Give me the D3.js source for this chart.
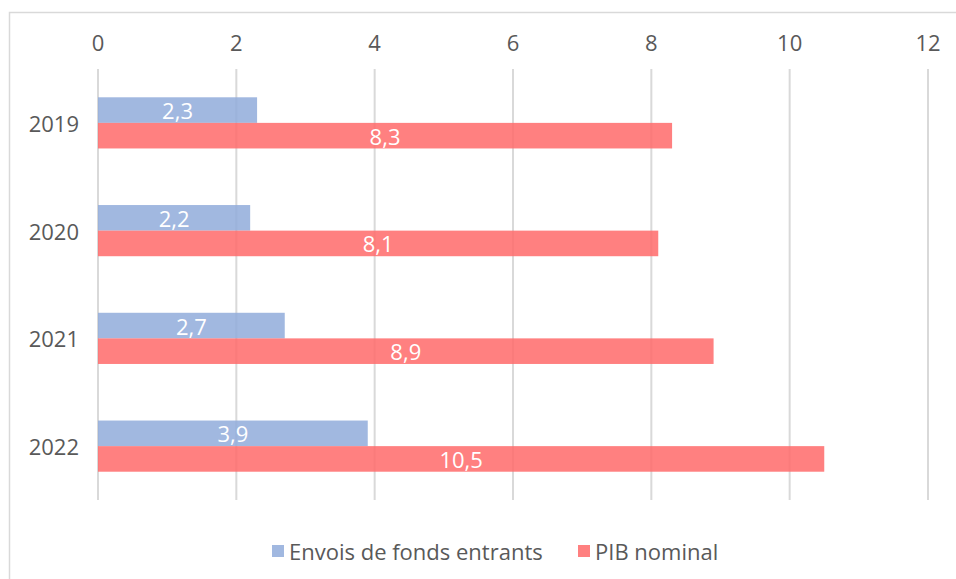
<!DOCTYPE html>
<html>
<head>
<meta charset="utf-8">
<script src="https://cdn.jsdelivr.net/npm/d3@7"></script>
<style>
  body { margin: 0; background: #fff; }
  svg { display: block; font-family: "Open Sans", sans-serif; }
</style>
</head>
<body>
<svg id="chart" width="956" height="579"></svg>
<script>
// ===== DATA =====
const years = ["2019", "2020", "2021", "2022"];
const envois = [2.3, 2.2, 2.7, 3.9];
const pib = [8.3, 8.1, 8.9, 10.5];
const xTicks = [0, 2, 4, 6, 8, 10, 12];
const seriesNames = ["Envois de fonds entrants", "PIB nominal"];
const seriesColors = ["#90acdb", "#ff6a6a"];

const svg = d3.select("#chart");
const margin = { left: 98, right: 28, top: 69, bottom: 79 };
const width = 956, height = 579;
const fontSize = "22px";

// frame (runs past the picture on right/bottom)
svg.append("path")
  .attr("d", `M9.5,${height + 5} V12.5 H${width + 5}`)
  .attr("fill", "none")
  .attr("stroke", "#d9d9d9")
  .attr("stroke-width", 1.5);

const x = d3.scaleLinear().domain([0, 12]).range([margin.left, width - margin.right]);
const y = d3.scaleBand().domain(years).range([margin.top, height - margin.bottom]).paddingInner(0.525).paddingOuter(0.2625);
const ySub = d3.scaleBand().domain([0, 1]).range([0, y.bandwidth()]);

// gridlines
svg.append("g").selectAll("line")
  .data(xTicks)
  .join("line")
  .attr("x1", d => x(d)).attr("x2", d => x(d))
  .attr("y1", margin.top).attr("y2", height - margin.bottom)
  .attr("stroke", "#d9d9d9")
  .attr("stroke-width", 2);

// top axis labels
svg.append("g").selectAll("text")
  .data(xTicks)
  .join("text")
  .attr("x", d => x(d))
  .attr("y", 42)
  .attr("text-anchor", "middle")
  .attr("dominant-baseline", "central")
  .attr("fill", "#595959")
  .attr("font-size", fontSize)
  .text(d => d);

// category labels
svg.append("g").selectAll("text")
  .data(years)
  .join("text")
  .attr("x", 79)
  .attr("y", d => y(d) + y.bandwidth() / 2)
  .attr("text-anchor", "end")
  .attr("dominant-baseline", "central")
  .attr("fill", "#595959")
  .attr("font-size", fontSize)
  .text(d => d);

// bars
const rows = [];
years.forEach((yr, i) => {
  rows.push({ yr, s: 0, v: envois[i] });
  rows.push({ yr, s: 1, v: pib[i] });
});

svg.append("g").selectAll("rect")
  .data(rows)
  .join("rect")
  .attr("x", x(0))
  .attr("y", d => y(d.yr) + ySub(d.s))
  .attr("width", d => x(d.v) - x(0))
  .attr("height", ySub.bandwidth())
  .attr("fill", d => seriesColors[d.s])
  .attr("fill-opacity", 0.85);

// value labels
const fmt = d3.format(".1f");
svg.append("g").selectAll("text")
  .data(rows)
  .join("text")
  .attr("x", d => (x(0) + x(d.v)) / 2)
  .attr("y", d => y(d.yr) + ySub(d.s) + ySub.bandwidth() / 2)
  .attr("text-anchor", "middle")
  .attr("dominant-baseline", "central")
  .attr("fill", "#fff")
  .attr("font-size", fontSize)
  .text(d => fmt(d.v).replace(".", ","));

// legend
const legend = svg.append("g");
const legendX = [272, 578];
seriesNames.forEach((name, i) => {
  legend.append("rect")
    .attr("x", legendX[i]).attr("y", 545)
    .attr("width", 12).attr("height", 12)
    .attr("fill", seriesColors[i])
    .attr("fill-opacity", 0.85);
  legend.append("text")
    .attr("x", legendX[i] + 17)
    .attr("y", 551)
    .attr("dominant-baseline", "central")
    .attr("fill", "#595959")
    .attr("font-size", fontSize)
    .text(name);
});
</script>
</body>
</html>
